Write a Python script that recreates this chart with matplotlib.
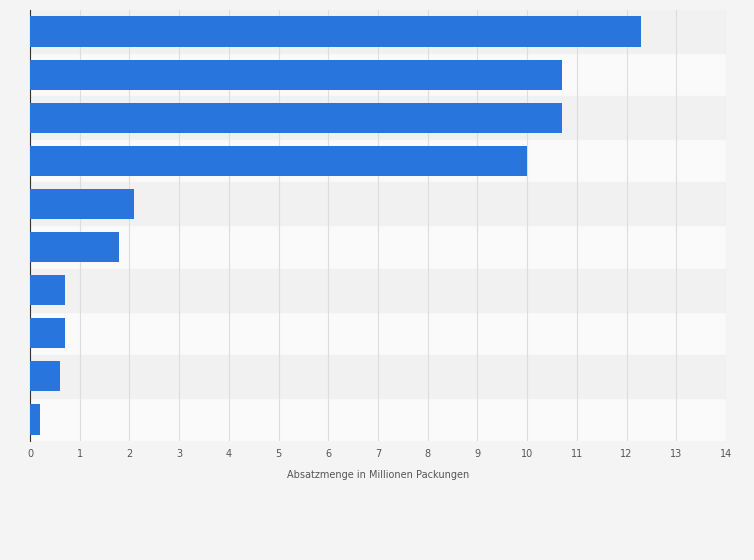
import matplotlib.pyplot as plt
import numpy as np

# values, top to bottom
values = [12.3, 10.7, 10.7, 10.0, 2.1, 1.8, 0.7, 0.7, 0.6, 0.2]
xticks = list(range(0, 15))
xlabel = "Absatzmenge in Millionen Packungen"

fig = plt.figure(figsize=(7.54, 5.60), dpi=100)
fig.patch.set_facecolor("#f4f4f4")
ax = fig.add_axes([30/754, 1 - 441/560, 696/754, 431/560])
ax.set_facecolor("#fafafa")

n = len(values)
y = np.arange(n)
# alternating row bands
for i in range(n):
    if i % 2 == 0:
        ax.axhspan(i - 0.5, i + 0.5, color="#f1f1f1", zorder=0)

ax.barh(y, values, height=0.7, color="#2876dd", zorder=3)
ax.set_ylim(n - 0.5, -0.5)
ax.set_xlim(0, 14)
ax.set_xticks(xticks)
ax.set_xticklabels([str(t) for t in xticks], fontsize=7, color="#555555")
ax.set_yticks([])
ax.grid(axis="x", color="#dddddd", linewidth=0.8, zorder=1)
ax.tick_params(axis="x", length=0, pad=6)
for s in ["top", "right", "bottom"]:
    ax.spines[s].set_visible(False)
ax.spines["left"].set_color("#333333")
ax.spines["left"].set_linewidth(0.8)
ax.set_xlabel(xlabel, fontsize=7, color="#555555", labelpad=8)

fig.savefig("out.png", dpi=100, facecolor=fig.get_facecolor())
